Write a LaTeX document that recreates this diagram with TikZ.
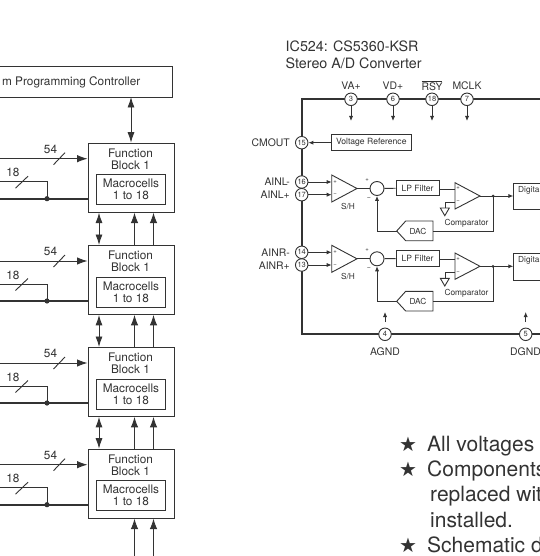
\documentclass[tikz,border=0pt]{standalone}
\usepackage{fontspec}
\setmainfont{TeX Gyre Heros}
\newfontfamily\starfont{DejaVu Sans}
\usetikzlibrary{arrows.meta,shapes.geometric,calc}
\definecolor{ink}{HTML}{333333}
\tikzset{
  ln/.style={draw=ink,line width=0.9pt},
  heavy/.style={draw=ink,line width=1.8pt},
  bigtip/.style={-{Latex[length=10.5pt,width=7.5pt]}},
  bigboth/.style={{Latex[length=10.5pt,width=7pt]}-{Latex[length=10.5pt,width=7pt]}},
  smalltip/.style={-{Latex[length=5pt,width=4.2pt]}},
  fbbox/.style={ln,minimum width=86pt,minimum height=69pt,inner sep=0pt,anchor=north west},
  mcbox/.style={ln,minimum width=69pt,minimum height=30pt,inner sep=0pt,anchor=north west,align=center,font=\fontsize{11.8}{12}\selectfont,text=ink},
  txt/.style={text=ink,inner sep=0pt,align=center,font=\fontsize{11.8}{12}\selectfont},
  pin/.style={circle,ln,fill=white,minimum size=12.5pt,inner sep=0pt,text=ink,font=\fontsize{7.5}{8}\selectfont},
  sbox/.style={ln,inner sep=0pt,text=ink,font=\fontsize{8.6}{9}\selectfont},
  lab/.style={text=ink,inner sep=0pt,font=\fontsize{10.4}{12}\selectfont},
  tiny/.style={text=ink,inner sep=0pt,font=\fontsize{8.3}{9}\selectfont},
  sign/.style={text=ink,inner sep=0pt,font=\fontsize{6}{6}\selectfont},
  bul/.style={text=ink,inner sep=0pt,anchor=base west,font=\fontsize{21}{24}\selectfont},
  star/.style={text=ink,inner sep=0pt,font=\starfont\fontsize{20}{22}\selectfont},
  ttl/.style={text=ink,inner sep=0pt,anchor=base west,font=\fontsize{14.3}{16}\selectfont},
}
\begin{document}
\begin{tikzpicture}[x=1pt,y=-1pt]
\useasboundingbox (0,0) rectangle (539,556);
\fill[white] (0,0) rectangle (539,556);
% --- left part
\coordinate (cnw) at (-3,66.5);
\coordinate (cse) at (172,97);
\draw[ln] (cnw) -| (cse) -| (cnw);
\node[txt,anchor=east] (ctl) at (140.5,82) {m Programming Controller};
\foreach \n/\y in {1/142.7,2/245,3/347,4/448.7}{
  \node[fbbox] (fb\n) at (87.5,\y) {};
  \node[txt] (fbt\n) at (130.5,\y+16.3) {Function\\Block 1};
  \node[mcbox] (mc\n) at (96,\y+31.6) {Macrocells\\1 to 18};
  \coordinate (a\n) at (-2,\y+16);
  \coordinate (b\n) at (-2,\y+39);
  \coordinate (c\n) at (-2,\y+56);
  \coordinate (d\n) at (47,\y+56);
  \draw[ln,bigtip] (a\n) -- (a\n -| fb\n.west);
  \draw[ln] (b\n) -| (d\n);
  \draw[heavy] (c\n) -- (c\n -| fb\n.west);
  \fill[ink] (d\n) circle (2.6pt);
  \draw[ln] (53.5,\y+22) -- (65,\y+10);
  \draw[ln] (15.5,\y+45.5) -- (28,\y+33.5);
  \node[txt] (n54\n) at (50.5,\y+6.5) {54};
  \node[txt] (n18\n) at (13,\y+30) {18};
}
\coordinate (t1) at (131,97);
\draw[ln,bigboth] (t1) -- (t1 |- fb1.north);
\foreach \u/\l in {1/2,2/3,3/4}{
  \draw[ln,bigboth] ($(fb\u.south west)+(11.5,0)$) -- ($(fb\l.north west)+(11.5,0)$);
  \draw[ln,bigtip] ($(fb\l.north west)+(47,0)$) -- ($(fb\u.south west)+(47,0)$);
  \draw[ln,bigtip] ($(fb\l.north west)+(66,0)$) -- ($(fb\u.south west)+(66,0)$);
}
\coordinate (e1) at (134.5,558);
\coordinate (e2) at (153.5,558);
\draw[ln,bigtip] (e1) -- (e1 |- fb4.south);
\draw[ln,bigtip] (e2) -- (e2 |- fb4.south);
% --- right part title
\node[ttl] (t1a) at (285.5,51.5) {IC524: CS5360-KSR};
\node[ttl] (t1b) at (285.5,68.5) {Stereo A/D Converter};
% frame
\coordinate (fr) at (541,99.3);
\coordinate (fl) at (301.7,99.3);
\coordinate (gl) at (301.7,334.3);
\coordinate (gr) at (541,334.3);
\draw[heavy] (fr) -- (fl) -- (gl) -- (gr);
% top pins
\foreach \nm/\x/\t/\l in {p3/351/3/VA+,p6/393/6/VD+,p18/432/18/$\overline{\mbox{RSY}}$,p7/467/7/MCLK}{
  \node[pin] (\nm) at (\x,99.3) {\t};
  \coordinate (\nm e) at (\x,121);
  \draw[ln,smalltip] (\nm) -- (\nm e);
  \node[lab] (\nm l) at (\x,85.5) {\l};
}
% CMOUT
\node[pin] (p15) at (301.7,142.7) {15};
\node[lab,anchor=east] (lcm) at (290,142.7) {CMOUT};
\node[sbox,minimum width=79.5pt,minimum height=16pt] (vr) at (371.3,142.7) {Voltage Reference};
\draw[ln,smalltip] (vr) -- (p15);
% channels
\foreach \ch/\na/\la/\nb/\lb/\s in {L/16/AINL-/17/AINL+/0,R/14/AINR-/13/AINR+/70.3}{
  \begin{scope}[yshift=-\s pt]
  \node[pin] (pa\ch) at (301.7,182) {\na};
  \node[pin] (pb\ch) at (301.7,194.7) {\nb};
  \node[lab,anchor=east] (la\ch) at (290,182) {\la};
  \node[lab,anchor=east] (lb\ch) at (290,195.2) {\lb};
  \coordinate (ta\ch) at (331.7,182);
  \coordinate (tb\ch) at (331.7,194.7);
  \draw[ln,smalltip] (pa\ch) -- (ta\ch);
  \draw[ln,smalltip] (pb\ch) -- (tb\ch);
  \coordinate (apx\ch) at (357,188.5);
  \draw[ln,fill=white] (331.7,175) -- (apx\ch) -- (331.7,202) -- cycle;
  \node[sign] (spl\ch) at (335,182) {+};
  \node[sign] (smi\ch) at (335,195) {−};
  \node[tiny] (sh\ch) at (348,206.5) {S/H};
  \node[circle,ln,minimum size=14pt,inner sep=0pt] (sum\ch) at (377,188.5) {};
  \draw[ln] (apx\ch) -- (sum\ch);
  \node[sign] (sp\ch) at (367,180) {+};
  \node[sign,font=\fontsize{7}{8}\selectfont] (sm\ch) at (369,198.5) {−};
  \node[sbox,minimum width=43pt,minimum height=15.7pt] (lp\ch) at (417.5,188) {LP Filter};
  \draw[ln] (sum\ch) -- (lp\ch);
  \coordinate (cmpi\ch) at (455,189);
  \coordinate (cmpa\ch) at (480,196);
  \draw[ln] (lp\ch.east |- cmpi\ch) -- (cmpi\ch);
  \coordinate (gin\ch) at (455,202);
  \coordinate (gc\ch) at (445,208);
  \draw[ln] (gin\ch) -| (gc\ch);
  \draw[ln,fill=white] (440.3,208) -- (449.3,208) -- (444.8,215.7) -- cycle;
  \draw[ln,fill=white] (455,182.7) -- (cmpa\ch) -- (455,209) -- cycle;
  \node[sign] (cp\ch) at (458,188.5) {+};
  \node[sign] (cm\ch) at (458,202) {−};
  \node[ln,minimum width=40pt,minimum height=26.5pt,inner sep=0pt,anchor=north west,text=ink] (dg\ch) at (513.3,182.7) {};
  \node[tiny,anchor=west] (dgt\ch) at (518,190.5) {Digita};
  \draw[ln,smalltip] (cmpa\ch) -- (dg\ch.west |- cmpa\ch);
  \coordinate (dot\ch) at (493,196);
  \fill[ink] (dot\ch) circle (1.5pt);
  \coordinate (fb\ch) at (493,231);
  \node[tiny] (cl\ch) at (466.5,223) {Comparator};
  \coordinate (dtip\ch) at (396.7,231);
  \draw[ln] (433,221) -- (405.7,221) -- (dtip\ch) -- (405.7,240.7) -- (433,240.7) -- cycle;
  \node[tiny] (dac\ch) at (418,231) {DAC};
  \draw[ln] (dot\ch) -- (fb\ch) -- (433,231);
  \draw[ln,smalltip] (dtip\ch) -| (sum\ch.south);
  \end{scope}
}
% bottom pins
\node[pin] (p4) at (385,334.3) {4};
\node[pin] (p5) at (525.7,334.3) {5};
\coordinate (u4a) at (385,322);
\coordinate (u4b) at (385,312);
\coordinate (u5a) at (525.7,322);
\coordinate (u5b) at (525.7,312);
\draw[ln,smalltip] (u4a) -- (u4b);
\draw[ln,smalltip] (u5a) -- (u5b);
\node[lab] (agnd) at (385,352) {AGND};
\node[lab,anchor=west] (dgnd) at (510,352) {DGND};
% notes
\foreach \nm/\y in {s1/444,s2/469.5,s3/545}{
  \node[star] (\nm) at (408,\y) {★};
}
\node[bul] (b1t) at (427,451) {All voltages};
\node[bul] (b2t) at (427,476) {Components};
\node[bul] (b3t) at (430,501.5) {replaced wit};
\node[bul] (b4t) at (430,527) {installed.};
\node[bul] (b5t) at (427,552) {Schematic d};
\end{tikzpicture}
\end{document}
